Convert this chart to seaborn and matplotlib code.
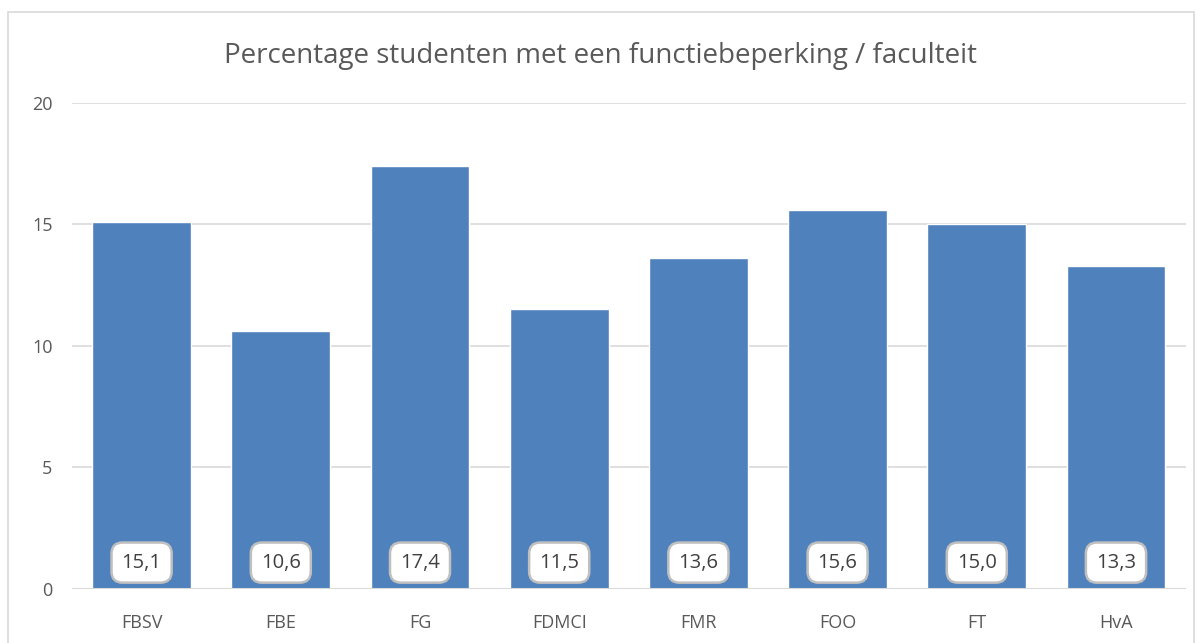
import pandas as pd
import seaborn as sns
import matplotlib.pyplot as plt
from matplotlib.patches import Rectangle

# Data
faculteiten = ['FBSV', 'FBE', 'FG', 'FDMCI', 'FMR', 'FOO', 'FT', 'HvA']
percentages = [15.1, 10.6, 17.4, 11.5, 13.6, 15.6, 15.0, 13.3]
yticks = [0, 5, 10, 15, 20]

df = pd.DataFrame({'faculteit': faculteiten, 'percentage': percentages})

sns.set_theme(style="white")
plt.rcParams['font.family'] = ['Open Sans', 'DejaVu Sans']

fig = plt.figure(figsize=(12, 6.43), dpi=100)
ax = fig.add_axes([0.06, 0.084, 0.928, 0.756])

sns.barplot(data=df, x='faculteit', y='percentage', color='#4F81BD',
            saturation=1, width=0.71, ax=ax)

# Grid lines
ax.set_ylim(0, 20)
ax.set_yticks(yticks)
ax.yaxis.grid(True, color='#D9D9D9', linewidth=1.2)
ax.set_axisbelow(True)
ax.axhline(0, color='#D9D9D9', linewidth=1.5, zorder=3)
for s in ax.spines.values():
    s.set_visible(False)

ax.tick_params(axis='both', length=0, labelsize=13, labelcolor='#595959', pad=14)
ax.tick_params(axis='x', pad=18)
ax.set_xlabel('')
ax.set_ylabel('')

# Label boxes at bottom of bars
for i, v in enumerate(percentages):
    ax.annotate(f"{v:.1f}".replace('.', ','), xy=(i, 0), xytext=(0, 19),
                textcoords='offset points', ha='center', va='center',
                fontsize=14.5, color='#404040', zorder=5,
                bbox=dict(boxstyle='round,pad=0.5,rounding_size=0.55',
                          fc='white', ec='#BFBFBF', lw=1.8))

fig.suptitle("Percentage studenten met een functiebeperking / faculteit",
             y=0.935, fontsize=20, color='#595959')

# Chart border
fig.patches.append(Rectangle((0.007, -0.01), 0.988, 0.992, transform=fig.transFigure,
                             fill=False, edgecolor='#D9D9D9', linewidth=1.2))

fig.savefig('out.png', dpi=100)
